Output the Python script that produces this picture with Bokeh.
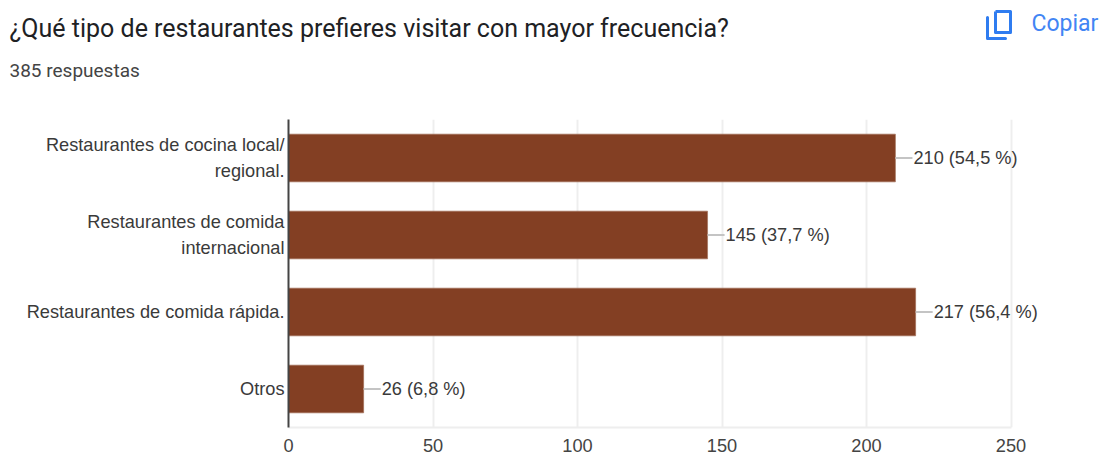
from bokeh.core.properties import value
from bokeh.embed import file_html
from bokeh.layouts import column, row
from bokeh.models import ColumnDataSource, FactorRange, Range1d
from bokeh.plotting import figure
from bokeh.resources import INLINE

QUESTION = "¿Qué tipo de restaurantes prefieres visitar con mayor frecuencia?"
RESPONSES = "385 respuestas"
COPY = "Copiar"
categories = [
    "Restaurantes de cocina local/\nregional.",
    "Restaurantes de comida\ninternacional",
    "Restaurantes de comida rápida.",
    "Otros",
]
counts = [210, 145, 217, 26]
shares = ["54,5", "37,7", "56,4", "6,8"]
x_ticks = [0, 50, 100, 150, 200, 250]

BAR = "#833f23"
ICON = "#2f7cf0"
LABEL_FONT = "Liberation Sans"
LABEL_SIZE = "18.2px"
TEXT_DARK = "#3a3a3a"
LEADER_UNITS = 5.9
PX_PER_UNIT = 2.89
FRAME_LEFT = 288
HEADER_H = 119
CHART_H = 338
WIDTH = 1101

# header: question, response count and the copy action, in pixel coordinates
header = figure(
    width=WIDTH, height=HEADER_H,
    x_range=(0, WIDTH), y_range=(HEADER_H, 0),
    x_axis_type=None, y_axis_type=None,
    output_backend="svg", toolbar_location=None,
    min_border=0, outline_line_color=None,
)
header.grid.visible = False
header.text(x=[9], y=[28], text=[QUESTION], text_font=value("Roboto"),
            text_font_size="25px", text_color="#202124", text_baseline="middle")
header.text(x=[9], y=[70], text=[RESPONSES], text_font=value("Roboto"),
            text_font_size="19px", text_color="#444444", text_baseline="middle")
header.text(x=[1031], y=[23], text=[COPY], text_font=value("Roboto"),
            text_font_size="23px", text_color="#4285f4", text_baseline="middle")
# copy icon: front sheet and the L-shaped sheet behind it
header.line(x=[995, 1010, 1010, 995, 995], y=[11, 11, 32, 32, 11],
            line_color=ICON, line_width=3, line_join="round")
header.line(x=[987, 987, 1005], y=[17, 38, 38],
            line_color=ICON, line_width=3, line_join="round", line_cap="round")

src = ColumnDataSource(dict(
    cat=categories,
    n=counts,
    lead=[c + LEADER_UNITS for c in counts],
    label=[f"{c} ({s} %)" for c, s in zip(counts, shares)],
))

# the frame runs to the page edge so value labels may pass the last tick
p = figure(
    width=WIDTH, height=CHART_H,
    y_range=FactorRange(factors=categories[::-1], range_padding=0),
    x_range=Range1d(0, (WIDTH - FRAME_LEFT) / PX_PER_UNIT),
    output_backend="svg", toolbar_location=None,
    min_border_left=FRAME_LEFT, min_border_right=0,
    min_border_top=0, min_border_bottom=30,
    outline_line_color=None,
)
p.y_range.factor_padding = 0
p.y_range.group_padding = 0

p.xgrid.ticker = x_ticks
p.xgrid.grid_line_color = "#eeeeee"
p.xgrid.grid_line_width = 2
p.ygrid.grid_line_color = None

p.hbar(y="cat", left=0, right="n", height=0.62, source=src,
       fill_color=BAR, line_color="#a06a52", line_width=0.6)
p.segment(x0="n", x1="lead", y0="cat", y1="cat", source=src,
          line_color="#c4c4c4", line_width=2)
p.text(x="n", y="cat", text="label", source=src, x_offset=18,
       text_align="left", text_baseline="middle", text_color=TEXT_DARK,
       text_font=value(LABEL_FONT), text_font_size=LABEL_SIZE)

p.xaxis.ticker = x_ticks
p.xaxis.bounds = (x_ticks[0], x_ticks[-1])
p.xaxis.axis_line_color = "#eeeeee"
p.xaxis.axis_line_width = 2
p.xaxis.major_tick_line_color = None
p.xaxis.minor_tick_line_color = None
p.xaxis.major_label_standoff = 5
p.xaxis.major_label_text_font = LABEL_FONT
p.xaxis.major_label_text_font_size = LABEL_SIZE
p.xaxis.major_label_text_color = "#444444"

p.yaxis.axis_line_color = "#444444"
p.yaxis.axis_line_width = 2
p.yaxis.major_tick_line_color = None
p.yaxis.minor_tick_line_color = None
p.yaxis.major_label_standoff = -2
p.yaxis.major_label_text_font = LABEL_FONT
p.yaxis.major_label_text_font_size = LABEL_SIZE
p.yaxis.major_label_text_color = TEXT_DARK
p.yaxis.major_label_text_line_height = 1.3

# the header sits in its own row so its frame keeps the full page width
page = column(row(header), p, spacing=0)
open("out.html", "w").write(file_html(page, INLINE))
